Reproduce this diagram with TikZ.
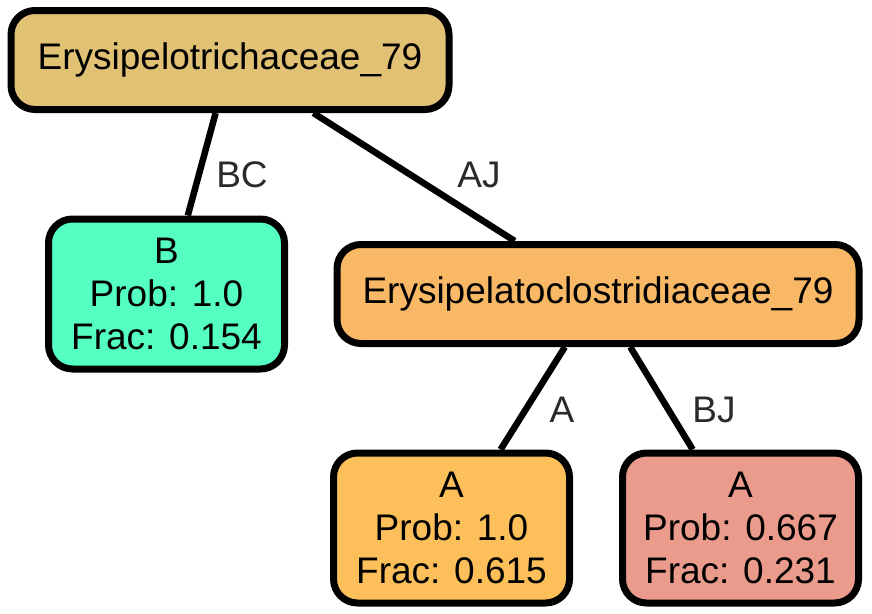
\documentclass[tikz,border=0pt]{standalone}
\usepackage{fontspec}
\setmainfont{Liberation Sans}
\usetikzlibrary{positioning}

\definecolor{rootfill}{HTML}{E1C173}
\definecolor{bfill}{HTML}{55FFC1}
\definecolor{eryfill}{HTML}{F8B865}
\definecolor{afill}{HTML}{FDBF59}
\definecolor{bjfill}{HTML}{EA9B8C}
\definecolor{labelgray}{HTML}{2A2A2A}

\begin{document}
\begin{tikzpicture}[
    x=1pt, y=-1pt,
    every node/.style = {font=\fontsize{37}{43}\selectfont},
    box/.style      = {draw=black, line width=7pt, rounded corners=24pt, align=center, inner sep=0pt},
    leaf/.style     = {box, minimum width=236pt, minimum height=150pt},
    taxon/.style    = {box, minimum height=99pt},
    edgelabel/.style = {text=labelgray, inner sep=0pt},
    link/.style     = {line width=6.5pt}
]

\useasboundingbox (0,0) rectangle (872,613);

% taxa
\node[taxon, fill=rootfill, minimum width=438pt] (root) at (230,60)  {Erysipelotrichaceae\_79};
\node[taxon, fill=eryfill,  minimum width=522pt] (ery)  at (598,294) {Erysipelatoclostridiaceae\_79};

% leaves
\node[leaf, fill=bfill]  (leafb)  at (166.5,294) {B\\Prob: 1.0\\Frac: 0.154};
\node[leaf, fill=afill]  (leafa)  at (451.5,528) {A\\Prob: 1.0\\Frac: 0.615};
\node[leaf, fill=bjfill] (leafbj) at (740.5,528) {A\\Prob: 0.667\\Frac: 0.231};

% branches
\draw[link] (root) -- (leafb);
\draw[link] (root) -- (ery);
\draw[link] (ery) -- (leafa);
\draw[link] (ery) -- (leafbj);

% branch labels
\node[edgelabel] (lbc) at (242,175) {BC};
\node[edgelabel] (laj) at (479,175) {AJ};
\node[edgelabel] (la)  at (562,410) {A};
\node[edgelabel] (lbj) at (714,410) {BJ};

\end{tikzpicture}
\end{document}
